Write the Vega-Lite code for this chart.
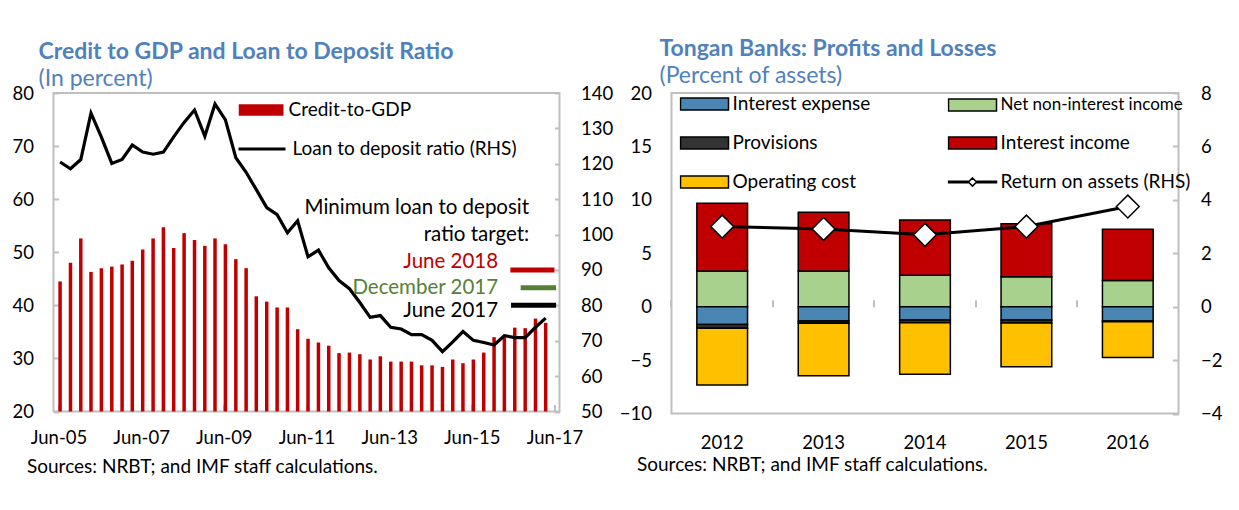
{
  "$schema": "https://vega.github.io/schema/vega-lite/v6.json",
  "background": "white",
  "padding": {"left": 10.5, "top": 36, "right": 2, "bottom": 2},
  "config": {
    "font": "Lato",
    "view": {"stroke": "#bfbfbf", "strokeWidth": 2},
    "axis": {"labelFont": "Lato", "labelFontSize": 18.5, "labelColor": "#000", "labelOverlap": false, "grid": false, "domain": false, "ticks": false, "titleFont": "Lato", "titleFontSize": 19, "titleFontWeight": "normal", "titleColor": "#000"},
    "legend": {"labelFont": "Lato", "labelFontSize": 19, "labelColor": "#000", "labelLimit": 400},
    "title": {"font": "Lato", "fontSize": 23, "fontWeight": "bold", "color": "#4f81bd", "subtitleFont": "Lato", "subtitleFontSize": 23, "subtitleColor": "#4f81bd", "subtitlePadding": 4, "anchor": "start", "frame": "group"}
  },
  "datasets": {
    "credit": [
      {"date": "2005-06-15", "credit": 44.5, "ltd": 120.5},
      {"date": "2005-09-15", "credit": 48.0, "ltd": 118.6},
      {"date": "2005-12-15", "credit": 52.6, "ltd": 121.2},
      {"date": "2006-03-15", "credit": 46.3, "ltd": 134.3},
      {"date": "2006-06-15", "credit": 47.0, "ltd": 127.5},
      {"date": "2006-09-15", "credit": 47.3, "ltd": 120.1},
      {"date": "2006-12-15", "credit": 47.7, "ltd": 121.2},
      {"date": "2007-03-15", "credit": 48.4, "ltd": 125.3},
      {"date": "2007-06-15", "credit": 50.5, "ltd": 123.3},
      {"date": "2007-09-15", "credit": 52.6, "ltd": 122.7},
      {"date": "2007-12-15", "credit": 54.7, "ltd": 123.3},
      {"date": "2008-03-15", "credit": 50.8, "ltd": 127.6},
      {"date": "2008-06-15", "credit": 53.6, "ltd": 131.7},
      {"date": "2008-09-15", "credit": 52.3, "ltd": 135.2},
      {"date": "2008-12-15", "credit": 51.2, "ltd": 127.8},
      {"date": "2009-03-15", "credit": 52.6, "ltd": 136.9},
      {"date": "2009-06-15", "credit": 51.5, "ltd": 132.4},
      {"date": "2009-09-15", "credit": 48.7, "ltd": 121.7},
      {"date": "2009-12-15", "credit": 47.0, "ltd": 117.6},
      {"date": "2010-03-15", "credit": 41.7, "ltd": 112.7},
      {"date": "2010-06-15", "credit": 40.7, "ltd": 107.6},
      {"date": "2010-09-15", "credit": 39.6, "ltd": 105.6},
      {"date": "2010-12-15", "credit": 39.6, "ltd": 100.5},
      {"date": "2011-03-15", "credit": 35.5, "ltd": 103.9},
      {"date": "2011-06-15", "credit": 33.7, "ltd": 93.7},
      {"date": "2011-09-15", "credit": 33.0, "ltd": 95.6},
      {"date": "2011-12-15", "credit": 32.4, "ltd": 90.6},
      {"date": "2012-03-15", "credit": 31.0, "ltd": 87.0},
      {"date": "2012-06-15", "credit": 31.1, "ltd": 84.7},
      {"date": "2012-09-15", "credit": 30.8, "ltd": 80.8},
      {"date": "2012-12-15", "credit": 29.8, "ltd": 76.6},
      {"date": "2013-03-15", "credit": 30.4, "ltd": 77.1},
      {"date": "2013-06-15", "credit": 29.4, "ltd": 73.8},
      {"date": "2013-09-15", "credit": 29.4, "ltd": 73.3},
      {"date": "2013-12-15", "credit": 29.4, "ltd": 71.7},
      {"date": "2014-03-15", "credit": 28.7, "ltd": 71.7},
      {"date": "2014-06-15", "credit": 28.7, "ltd": 70.1},
      {"date": "2014-09-15", "credit": 28.4, "ltd": 66.9},
      {"date": "2014-12-15", "credit": 29.8, "ltd": 69.7},
      {"date": "2015-03-15", "credit": 29.1, "ltd": 72.6},
      {"date": "2015-06-15", "credit": 29.8, "ltd": 70.1},
      {"date": "2015-09-15", "credit": 31.1, "ltd": 69.5},
      {"date": "2015-12-15", "credit": 34.0, "ltd": 68.8},
      {"date": "2016-03-15", "credit": 34.0, "ltd": 71.4},
      {"date": "2016-06-15", "credit": 35.8, "ltd": 70.9},
      {"date": "2016-09-15", "credit": 35.7, "ltd": 70.9},
      {"date": "2016-12-15", "credit": 37.5, "ltd": 73.8},
      {"date": "2017-03-15", "credit": 36.7, "ltd": 76.4}
    ],
    "targets": [
      {"g": "June 2018", "start": "2016-05-07", "end": "2017-06-01", "value": 90},
      {"g": "December 2017", "start": "2016-08-06", "end": "2017-06-15", "value": 85},
      {"g": "June 2017", "start": "2016-05-13", "end": "2017-06-15", "value": 80}
    ],
    "notes": [
      {"g": "note", "label": "Minimum loan to deposit", "date": "2016-10-20", "value": 107.4},
      {"g": "note", "label": "ratio target:", "date": "2016-10-20", "value": 99.8},
      {"g": "June 2018", "label": "June 2018", "date": "2016-01-20", "value": 92.2},
      {"g": "December 2017", "label": "December 2017", "date": "2016-01-20", "value": 84.8},
      {"g": "June 2017", "label": "June 2017", "date": "2016-01-20", "value": 78.3}
    ],
    "banks": [
      {"year": "2012", "series": "Net non-interest income", "value": 3.35, "stack_order": 1},
      {"year": "2012", "series": "Interest income", "value": 6.33, "stack_order": 2},
      {"year": "2012", "series": "Interest expense", "value": -1.66, "stack_order": 3},
      {"year": "2012", "series": "Provisions", "value": -0.35, "stack_order": 4},
      {"year": "2012", "series": "Operating cost", "value": -5.33, "stack_order": 5},
      {"year": "2013", "series": "Net non-interest income", "value": 3.35, "stack_order": 1},
      {"year": "2013", "series": "Interest income", "value": 5.49, "stack_order": 2},
      {"year": "2013", "series": "Interest expense", "value": -1.34, "stack_order": 3},
      {"year": "2013", "series": "Provisions", "value": -0.22, "stack_order": 4},
      {"year": "2013", "series": "Operating cost", "value": -4.91, "stack_order": 5},
      {"year": "2014", "series": "Net non-interest income", "value": 2.93, "stack_order": 1},
      {"year": "2014", "series": "Interest income", "value": 5.19, "stack_order": 2},
      {"year": "2014", "series": "Interest expense", "value": -1.25, "stack_order": 3},
      {"year": "2014", "series": "Provisions", "value": -0.25, "stack_order": 4},
      {"year": "2014", "series": "Operating cost", "value": -4.82, "stack_order": 5},
      {"year": "2015", "series": "Net non-interest income", "value": 2.81, "stack_order": 1},
      {"year": "2015", "series": "Interest income", "value": 4.94, "stack_order": 2},
      {"year": "2015", "series": "Interest expense", "value": -1.25, "stack_order": 3},
      {"year": "2015", "series": "Provisions", "value": -0.28, "stack_order": 4},
      {"year": "2015", "series": "Operating cost", "value": -4.09, "stack_order": 5},
      {"year": "2016", "series": "Net non-interest income", "value": 2.44, "stack_order": 1},
      {"year": "2016", "series": "Interest income", "value": 4.81, "stack_order": 2},
      {"year": "2016", "series": "Interest expense", "value": -1.34, "stack_order": 3},
      {"year": "2016", "series": "Provisions", "value": -0.08, "stack_order": 4},
      {"year": "2016", "series": "Operating cost", "value": -3.33, "stack_order": 5}
    ],
    "roa": [
      {"year": "2012", "roa": 3.0},
      {"year": "2013", "roa": 2.91},
      {"year": "2014", "roa": 2.69},
      {"year": "2015", "roa": 3.0},
      {"year": "2016", "roa": 3.75}
    ]
  },
  "spacing": 3,
  "resolve": {
    "scale": {"fill": "independent", "stroke": "independent", "color": "independent", "shape": "independent"},
    "legend": {"fill": "independent", "stroke": "independent", "color": "independent", "shape": "independent"}
  },
  "hconcat": [
    {
      "width": 506,
      "height": 318.5,
      "title": {"text": "Credit to GDP and Loan to Deposit Ratio", "subtitle": "(In percent)", "dx": -15, "offset": -6.5},
      "resolve": {"scale": {"y": "independent"}},
      "layer": [
        {
          "data": {"name": "credit"},
          "mark": {"type": "bar", "size": 3.5},
          "encoding": {
            "x": {
              "field": "date", "type": "temporal",
              "scale": {"domain": [{"year": 2005, "month": 6, "date": 1}, {"year": 2017, "month": 6, "date": 1}]},
              "axis": {
                "values": [{"year": 2005, "month": 6, "date": 1}, {"year": 2007, "month": 6, "date": 1}, {"year": 2009, "month": 6, "date": 1}, {"year": 2011, "month": 6, "date": 1}, {"year": 2013, "month": 6, "date": 1}, {"year": 2015, "month": 6, "date": 1}, {"year": 2017, "month": 6, "date": 1}],
                "format": "%b-%y", "ticks": true, "tickSize": -7, "tickColor": "#bfbfbf", "tickWidth": 2,
                "labelPadding": 23.5, "labelFlush": false, "labelOverlap": false,
                "title": "Sources: NRBT; and IMF staff calculations.", "titleAnchor": "start", "titleAlign": "left", "titleBaseline": "middle", "titleX": -27, "titleY": 54.5
              }
            },
            "y": {
              "field": "credit", "type": "quantitative",
              "scale": {"domain": [20, 80], "nice": false, "zero": false},
              "axis": {"values": [20, 30, 40, 50, 60, 70, 80], "orient": "left", "labelPadding": 25, "labelOverlap": false, "title": null, "ticks": true, "tickSize": -5, "tickColor": "#bfbfbf", "tickWidth": 2}
            },
            "y2": {"datum": 20},
            "fill": {
              "datum": "Credit-to-GDP",
              "scale": {"range": ["#c00000"]},
              "legend": {"orient": "none", "legendX": 185, "legendY": 10, "title": null, "symbolType": "M-1,-0.26L1,-0.26L1,0.26L-1,0.26Z", "symbolSize": 2025, "symbolStrokeWidth": 0, "clipHeight": 14, "labelOffset": 5, "padding": 0}
            }
          }
        },
        {
          "layer": [
            {
              "data": {"name": "credit"},
              "mark": {"type": "line", "strokeWidth": 3.2},
              "encoding": {
                "x": {"field": "date", "type": "temporal", "scale": {"domain": [{"year": 2005, "month": 6, "date": 1}, {"year": 2017, "month": 6, "date": 1}]}},
                "y": {
                  "field": "ltd", "type": "quantitative",
                  "scale": {"domain": [50, 140], "nice": false, "zero": false},
                  "axis": {"orient": "right", "values": [50, 60, 70, 80, 90, 100, 110, 120, 130, 140], "labelOverlap": false, "labelPadding": 26, "title": null, "ticks": true, "tickSize": -5, "tickColor": "#bfbfbf", "tickWidth": 2}
                },
                "stroke": {
                  "datum": "Loan to deposit ratio (RHS)",
                  "scale": {"range": ["#000000"]},
                  "legend": {"orient": "none", "legendX": 183, "legendY": 49, "title": null, "symbolType": "stroke", "symbolSize": 2209, "symbolStrokeWidth": 3.2, "clipHeight": 14, "labelOffset": 5, "padding": 0}
                }
              }
            },
            {
              "data": {"name": "targets"},
              "mark": {"type": "rule", "strokeWidth": 5},
              "encoding": {
                "x": {"field": "start", "type": "temporal", "scale": {"domain": [{"year": 2005, "month": 6, "date": 1}, {"year": 2017, "month": 6, "date": 1}]}},
                "x2": {"field": "end"},
                "y": {"field": "value", "type": "quantitative", "axis": {"orient": "right", "values": [50, 60, 70, 80, 90, 100, 110, 120, 130, 140], "labelOverlap": false, "labelPadding": 26, "title": null, "ticks": true, "tickSize": -5, "tickColor": "#bfbfbf", "tickWidth": 2}},
                "color": {"field": "g", "type": "nominal", "scale": {"domain": ["June 2018", "December 2017", "June 2017", "note"], "range": ["#c00000", "#548235", "#000000", "#000000"]}, "legend": null}
              }
            },
            {
              "data": {"name": "notes"},
              "mark": {"type": "text", "align": "right", "baseline": "middle", "fontSize": 20.5},
              "encoding": {
                "x": {"field": "date", "type": "temporal", "scale": {"domain": [{"year": 2005, "month": 6, "date": 1}, {"year": 2017, "month": 6, "date": 1}]}},
                "y": {"field": "value", "type": "quantitative", "axis": {"orient": "right", "values": [50, 60, 70, 80, 90, 100, 110, 120, 130, 140], "labelOverlap": false, "labelPadding": 26, "title": null, "ticks": true, "tickSize": -5, "tickColor": "#bfbfbf", "tickWidth": 2}},
                "text": {"field": "label"},
                "color": {"field": "g", "type": "nominal", "scale": {"domain": ["June 2018", "December 2017", "June 2017", "note"], "range": ["#c00000", "#548235", "#000000", "#000000"]}, "legend": null}
              }
            }
          ]
        }
      ]
    },
    {
      "width": 507,
      "height": 320.5,
      "title": {"text": "Tongan Banks: Profits and Losses", "subtitle": "(Percent of assets)", "dx": -12, "offset": -3.5},
      "resolve": {"scale": {"y": "independent"}, "axis": {"x": "independent"}},
      "layer": [
        {
          "layer": [
            {
              "mark": {"type": "rule", "color": "#b0b0b0", "strokeWidth": 2},
              "encoding": {"y": {"datum": 0, "type": "quantitative", "scale": {"domain": [-10, 20], "nice": false}}}
            },
            {
              "data": {"name": "banks"},
              "mark": {"type": "bar", "stroke": "#000000", "strokeWidth": 1.5},
              "encoding": {
                "x": {
                  "field": "year", "type": "ordinal",
                  "scale": {"paddingInner": 0.5, "paddingOuter": 0.25},
                  "axis": {"labelAngle": 0, "labelPadding": 20, "title": "Sources: NRBT; and IMF staff calculations.", "titleAnchor": "start", "titleAlign": "left", "titleBaseline": "middle", "titleX": -35, "titleY": 51}
                },
                "y": {
                  "field": "value", "type": "quantitative", "stack": "zero",
                  "scale": {"domain": [-10, 20], "nice": false},
                  "axis": {"orient": "left", "values": [-10, -5, 0, 5, 10, 15, 20], "labelPadding": 20, "title": null}
                },
                "order": {"field": "stack_order", "type": "quantitative"},
                "fill": {
                  "field": "series", "type": "nominal",
                  "scale": {
                    "domain": ["Interest expense", "Net non-interest income", "Provisions", "Interest income", "Operating cost"],
                    "range": ["#4a86b4", "#a9d18e", "#333333", "#c00000", "#ffc000"]
                  },
                  "legend": null
                }
              }
            },
            {
              "data": {"name": "banks"},
              "mark": {"type": "point", "filled": true, "size": 0, "opacity": 1, "stroke": "#000000", "strokeWidth": 1.5},
              "encoding": {
                "x": {"field": "year", "type": "ordinal"},
                "y": {"field": "value", "type": "quantitative"},
                "color": {
                  "field": "series", "type": "nominal",
                  "scale": {
                    "domain": ["Interest expense", "Net non-interest income", "Provisions", "Interest income", "Operating cost", "Return on assets (RHS)"],
                    "range": ["#4a86b4", "#a9d18e", "#333333", "#c00000", "#ffc000", "#ffffff"]
                  },
                  "legend": {"orient": "none", "legendX": 8, "legendY": 4, "title": null, "direction": "horizontal", "columns": 2, "columnPadding": 77, "rowPadding": 20, "symbolSize": 2304, "symbolStrokeWidth": 1.5, "symbolStrokeColor": "#000000", "symbolOpacity": 1, "clipHeight": 14, "labelOffset": 3, "padding": 0,
                    "encode": {"symbols": {"update": {"stroke": {"value": "#000000"}, "strokeWidth": {"value": 1.5}, "opacity": {"value": 1}}}, "labels": {"update": {"fontSize": {"signal": "datum.label === 'Net non-interest income' ? 17 : 19"}}}}}
                },
                "shape": {
                  "field": "series", "type": "nominal",
                  "scale": {
                    "domain": ["Interest expense", "Net non-interest income", "Provisions", "Interest income", "Operating cost", "Return on assets (RHS)"],
                    "range": ["M-1,-0.25L1,-0.25L1,0.25L-1,0.25Z", "M-1,-0.25L1,-0.25L1,0.25L-1,0.25Z", "M-1,-0.25L1,-0.25L1,0.25L-1,0.25Z", "M-1,-0.25L1,-0.25L1,0.25L-1,0.25Z", "M-1,-0.25L1,-0.25L1,0.25L-1,0.25Z", "M-1,-0.03L-0.2,-0.03L-0.2,0.03L-1,0.03ZM0.2,-0.03L1,-0.03L1,0.03L0.2,0.03ZM0,-0.17L0.17,0L0,0.17L-0.17,0Z"]
                  },
                  "legend": {"orient": "none", "legendX": 8, "legendY": 4, "title": null, "direction": "horizontal", "columns": 2, "columnPadding": 77, "rowPadding": 20, "symbolSize": 2304, "symbolStrokeWidth": 1.5, "symbolStrokeColor": "#000000", "symbolOpacity": 1, "clipHeight": 14, "labelOffset": 3, "padding": 0,
                    "encode": {"symbols": {"update": {"stroke": {"value": "#000000"}, "strokeWidth": {"value": 1.5}, "opacity": {"value": 1}}}, "labels": {"update": {"fontSize": {"signal": "datum.label === 'Net non-interest income' ? 17 : 19"}}}}}
                }
              }
            }
          ]
        },
        {
          "layer": [
            {
              "data": {"name": "roa"},
              "mark": {"type": "line", "color": "#000000", "strokeWidth": 3},
              "encoding": {
                "x": {"field": "year", "type": "ordinal", "axis": {"orient": "bottom", "offset": -106.8, "bandPosition": -0.5, "labels": false, "domain": false, "ticks": true, "tickSize": -7, "tickColor": "#bfbfbf", "tickWidth": 2, "title": null}},
                "y": {
                  "field": "roa", "type": "quantitative",
                  "scale": {"domain": [-4, 8], "nice": false},
                  "axis": {"orient": "right", "values": [-4, -2, 0, 2, 4, 6, 8], "labelPadding": 28, "title": null, "ticks": true, "tickSize": -6, "tickColor": "#bfbfbf", "tickWidth": 2}
                }
              }
            },
            {
              "data": {"name": "roa"},
              "mark": {"type": "point", "shape": "diamond", "size": 520, "filled": true, "fill": "#ffffff", "stroke": "#000000", "strokeWidth": 1.5, "opacity": 1},
              "encoding": {
                "x": {"field": "year", "type": "ordinal", "axis": {"orient": "bottom", "offset": -106.8, "bandPosition": -0.5, "labels": false, "domain": false, "ticks": true, "tickSize": -7, "tickColor": "#bfbfbf", "tickWidth": 2, "title": null}},
                "y": {"field": "roa", "type": "quantitative"}
              }
            }
          ]
        }
      ]
    }
  ]
}
